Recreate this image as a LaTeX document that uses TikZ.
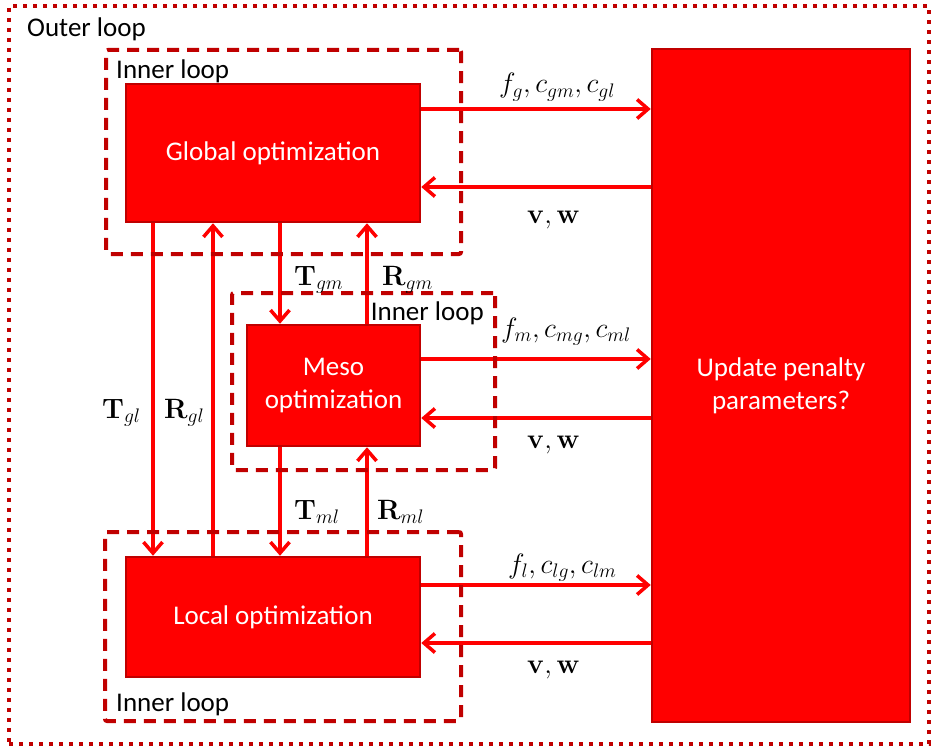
\RequirePackage{fix-cm}
\documentclass[tikz,border=0pt]{standalone}
\usepackage[no-math]{fontspec}
\setmainfont{Carlito}
\usetikzlibrary{arrows.meta, positioning}
\definecolor{boxred}{HTML}{FF0000}
\definecolor{edgered}{HTML}{C00000}

\begin{document}
\begin{tikzpicture}[
    x=1pt, y=-1pt,
    font=\fontsize{27}{33}\selectfont,
    optbox/.style={rectangle, draw=edgered, line width=2.5pt, fill=boxred, text=white, align=center, inner sep=0pt},
    loopbox/.style={rectangle, draw=edgered, line width=4pt, dash pattern=on 12pt off 8pt, rounded corners=2pt, inner sep=0pt},
    outerbox/.style={rectangle, draw=edgered, line width=4pt, dash pattern=on 4pt off 6pt, inner sep=0pt},
    flow/.style={-{Straight Barb[length=11pt, width=19pt]}, line width=3.5pt, boxred},
    lbl/.style={font=\fontsize{28}{32}\selectfont, text=black, inner sep=0pt}
]
\useasboundingbox (0,0) rectangle (934,749);

\node[outerbox, minimum width=920pt, minimum height=738pt] (outer) at (469,375) {};
\node[anchor=base west, inner sep=0pt] (outertitle) at (27,37) {Outer loop};

% optimization levels
\node[optbox, minimum width=294pt, minimum height=138pt] (global) at (273,153) {Global optimization};
\node[optbox, minimum width=173pt, minimum height=121pt] (meso) at (333.5,385.5) {Meso\\optimization};
\node[optbox, minimum width=294pt, minimum height=120pt] (local) at (273,617) {Local optimization};
\node[optbox, minimum width=258pt, minimum height=673pt] (update) at (781,385.5) {Update penalty\\parameters?};

% responses to the update box and back
\draw[flow] (global.east |- 0,109) -- (update.west |- 0,109);
\draw[flow] (update.west |- 0,187) -- (global.east |- 0,187);
\draw[flow] (meso.east |- 0,359) -- (update.west |- 0,359);
\draw[flow] (update.west |- 0,418) -- (meso.east |- 0,418);
\draw[flow] (local.east |- 0,585) -- (update.west |- 0,585);
\draw[flow] (update.west |- 0,643) -- (local.east |- 0,643);

% targets and responses between levels
\draw[flow] (global.south -| 153,0) -- (local.north -| 153,0);
\draw[flow] (local.north -| 213,0) -- (global.south -| 213,0);
\draw[flow] (global.south -| 280,0) -- (meso.north -| 280,0);
\draw[flow] (meso.north -| 367,0) -- (global.south -| 367,0);
\draw[flow] (meso.south -| 280,0) -- (local.north -| 280,0);
\draw[flow] (local.north -| 367,0) -- (meso.south -| 367,0);

% inner loops
\node[loopbox, minimum width=355pt, minimum height=204pt] (gloop) at (283.5,152) {};
\node[loopbox, minimum width=263pt, minimum height=177pt] (mloop) at (363.5,381.5) {};
\node[loopbox, minimum width=356pt, minimum height=189pt] (lloop) at (283,626.5) {};
\node[anchor=base west, inner sep=0pt] (gtitle) at (116,79) {Inner loop};
\node[anchor=base east, inner sep=0pt] (mtitle) at (484,320) {Inner loop};
\node[anchor=base west, inner sep=0pt] (ltitle) at (116,711) {Inner loop};

% labels
\node[lbl, anchor=base west] (fglob) at (499,93) {$f_g, c_{gm}, c_{gl}$};
\node[lbl, anchor=base west] (vwglob) at (527,223) {$\mathbf{v}, \mathbf{w}$};
\node[lbl, anchor=base west] (fmeso) at (501,337) {$f_m, c_{mg}, c_{ml}$};
\node[lbl, anchor=base west] (vwmeso) at (527,448) {$\mathbf{v}, \mathbf{w}$};
\node[lbl, anchor=base west] (floc) at (508,573) {$f_l, c_{lg}, c_{lm}$};
\node[lbl, anchor=base west] (vwloc) at (527,673) {$\mathbf{v}, \mathbf{w}$};
\node[lbl, anchor=base west] (tgl) at (102,418) {$\mathbf{T}_{gl}$};
\node[lbl, anchor=base west] (rgl) at (164,418) {$\mathbf{R}_{gl}$};
\node[lbl, anchor=base west] (tgm) at (294,285) {$\mathbf{T}_{gm}$};
\node[lbl, anchor=base west] (rgm) at (382,285) {$\mathbf{R}_{gm}$};
\node[lbl, anchor=base west] (tml) at (294,519) {$\mathbf{T}_{ml}$};
\node[lbl, anchor=base west] (rml) at (377,519) {$\mathbf{R}_{ml}$};
\end{tikzpicture}
\end{document}
